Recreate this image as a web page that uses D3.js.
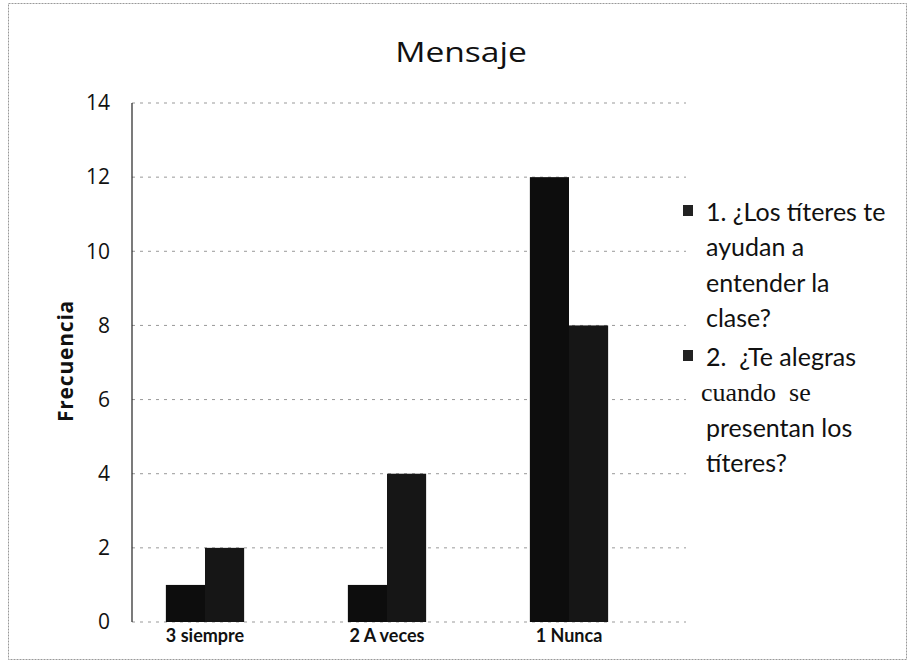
<!DOCTYPE html>
<html><head><meta charset="utf-8">
<script src="https://cdn.jsdelivr.net/npm/d3@7"></script>
<style>body{margin:0;background:#fff}svg{display:block}</style>
</head><body>
<svg id="c" width="909" height="667"></svg>
<script>
const categories = ["3 siempre", "2 A veces", "1 Nunca"];
const legendLines = [
  ["1. ¿Los títeres te", "ayudan a", "entender la", "clase?"],
  ["2.  ¿Te alegras", "cuando  se", "presentan los", "títeres?"]
];
const series1 = [1, 1, 12];
const series2 = [2, 4, 8];
const yTicks = [0, 2, 4, 6, 8, 10, 12, 14];

const svg = d3.select("#c");
const font = "Lato, 'Open Sans', sans-serif";
const font2 = "'Open Sans', sans-serif";

svg.append("rect").attr("x", 8.5).attr("y", 3.5).attr("width", 898).attr("height", 656)
  .attr("fill", "none").attr("stroke", "#999").attr("stroke-width", 1).attr("stroke-dasharray", "2,1");

const y = d3.scaleLinear().domain([0, 14]).range([622, 103]);
const x = d3.scaleBand().domain(categories).range([114, 660]).paddingInner(0.57).paddingOuter(0.285);
const xs = d3.scaleBand().domain([0, 1]).range([0, x.bandwidth()]);

const gridLeft = 132, gridRight = 686;
svg.append("g").selectAll("line").data(yTicks).join("line")
  .attr("x1", gridLeft).attr("x2", gridRight)
  .attr("y1", d => y(d)).attr("y2", d => y(d))
  .attr("stroke", "#999").attr("stroke-width", 1).attr("stroke-dasharray", "3,5");

const data = [];
categories.forEach((c, i) => { data.push({c, s: 0, v: series1[i]}); data.push({c, s: 1, v: series2[i]}); });
svg.append("g").selectAll("rect").data(data).join("rect")
  .attr("x", d => x(d.c) + xs(d.s)).attr("width", xs.bandwidth())
  .attr("y", d => y(d.v)).attr("height", d => y(0) - y(d.v))
  .attr("fill", d => d.s === 0 ? "#0d0d0d" : "#161616");

svg.append("line").attr("x1", gridLeft).attr("x2", gridLeft).attr("y1", y(14)).attr("y2", y(0))
  .attr("stroke", "#222").attr("stroke-width", 1.2);

const yAxis = svg.append("g").attr("transform", `translate(${gridLeft},0)`)
  .call(d3.axisLeft(y).tickValues(yTicks).tickSize(0).tickPadding(22));
yAxis.select(".domain").remove();
yAxis.selectAll("text").attr("font-family", font2).attr("font-size", 21).attr("fill", "#111");

const xAxis = svg.append("g").attr("transform", `translate(0,${y(0)})`)
  .call(d3.axisBottom(x).tickSize(0).tickPadding(7));
xAxis.select(".domain").remove();
xAxis.selectAll("text").attr("font-family", font).attr("font-size", 18).attr("font-weight", "bold").attr("fill", "#111");

svg.append("text").attr("transform", "translate(461,62) scale(1.2,1)").attr("text-anchor", "middle")
  .attr("font-family", font2).attr("font-size", 28).attr("fill", "#111").text("Mensaje");

svg.append("text").attr("transform", "translate(73,361) rotate(-90)").attr("text-anchor", "middle")
  .attr("font-family", font2).attr("font-size", 21).attr("font-weight", "bold")
  .attr("letter-spacing", 0.8).attr("fill", "#111").text("Frecuencia");

const legBase = [221, 366];
const legStep = 35.3;
legendLines.forEach((lines, i) => {
  const g = svg.append("g");
  g.append("rect").attr("x", 683).attr("y", legBase[i] - 16).attr("width", 10).attr("height", 11).attr("fill", "#222");
  lines.forEach((ln, j) => {
    const serif = (i === 1 && j === 1);
    g.append("text").attr("x", serif ? 701 : 706).attr("y", legBase[i] + j * legStep)
      .attr("font-family", serif ? "'Liberation Serif', serif" : font)
      .attr("font-size", serif ? 26 : 25).attr("fill", "#111")
      .attr("xml:space", "preserve").style("white-space", "pre").text(ln);
  });
});
</script>
</body></html>
